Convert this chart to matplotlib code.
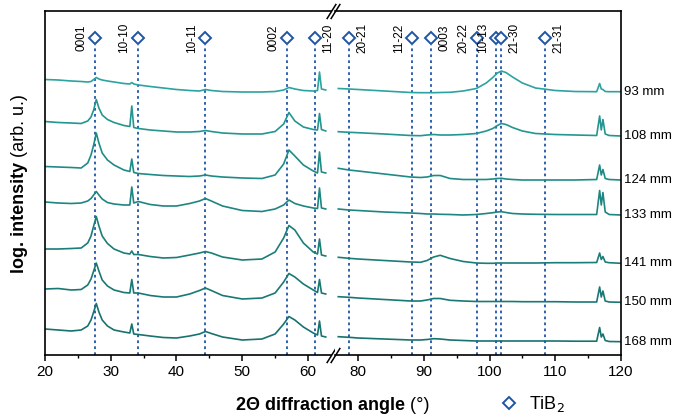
import matplotlib
matplotlib.use('Agg')
import matplotlib.pyplot as plt
from matplotlib.lines import Line2D

plt.rcParams['font.family'] = ['Liberation Sans', 'DejaVu Sans']

# ---------------- data ----------------
samples = ['93 mm', '108 mm', '124 mm', '133 mm', '141 mm', '150 mm', '168 mm']
colors = ['#2ba3a0', '#23968f', '#1f8b86', '#1e8581', '#1b7d78', '#1a7874', '#18726f']

x_low = [20, 22, 24, 25.5, 26.5, 27.0, 27.4, 27.8, 28.2, 28.7, 29.5, 30.5, 32, 32.9, 33.2,
         33.5, 34.2, 36, 38, 40, 42, 43.5, 44.4, 45.3, 47, 50, 53, 55, 56.3, 57.1, 58.0,
         59.3, 60.8, 61.45, 61.75, 62.05, 62.7]
x_high = [77, 78.6, 80, 84, 88, 89.5, 90.5, 91.5, 92.5, 94, 96, 98, 99.5, 100.5, 101.2,
          101.8, 102.5, 103.5, 105, 107, 110, 113, 116.3, 116.75, 117.0, 117.25, 117.6,
          118.2, 120]

low_93 = [275.5, 275, 274, 273.5, 273, 273.5, 275.5, 277.5, 276, 275, 274, 273, 271.5, 271,
          272.5, 271, 270, 268.5, 267, 265.5, 264.5, 264, 265.5, 264.5, 263.5, 263, 263,
          263.5, 265, 267.5, 266, 264.5, 264, 264.5, 283, 266, 265]
low_108 = [233.5, 232.5, 232, 231.5, 234, 238, 245, 255.5, 247, 240, 235.5, 232.5, 229.5,
           228.5, 249, 227.5, 226.5, 225, 224, 223, 223, 223.5, 224.5, 223.5, 222, 221, 221,
           223.5, 231, 242.5, 234, 228, 225.5, 225, 241.5, 225.5, 224]
low_124 = [188.5, 188, 187.5, 187, 192, 200, 210, 222, 212, 202, 195, 190, 185, 183.5, 196,
           182.5, 181.5, 180.5, 179.5, 179, 178.5, 179, 180, 179, 178, 177, 176.5, 180, 191,
           205, 199, 190, 184, 182, 203, 183, 182]
low_133 = [153, 152, 151.5, 152, 154, 156.5, 160, 163.5, 160, 156, 152.5, 151, 150, 150, 168,
           152, 153.5, 150.5, 149, 149, 151.5, 154, 156.5, 154, 149, 144.5, 143.5, 146, 150,
           155, 151.5, 149, 147, 146.5, 167, 147, 146]
low_141 = [106, 106, 106.5, 107, 112, 119, 129, 138.5, 129, 119, 111.5, 106, 102, 101, 104,
           100.5, 100.5, 98.5, 97, 97.5, 100, 102, 103.5, 102, 98, 95, 96, 103, 117, 129.5,
           125, 112, 103, 101, 116, 100, 99]
low_150 = [66, 66.5, 65, 65.5, 70, 76, 84, 92, 84, 75, 69, 65, 62.5, 62, 75.5, 62, 62, 59.5,
           58, 58, 61, 64.5, 67, 64.5, 59.5, 56, 57, 62, 73, 81.5, 78, 71, 65, 62.5, 75.5, 62, 61]
low_168 = [26, 25, 24, 25, 29, 35, 43, 51.5, 43, 35, 29, 25, 23, 22, 31, 21, 20.5, 19, 17.5,
           17, 19, 21, 23.5, 21.5, 18, 15, 16, 21, 31, 38.5, 35, 28, 22, 20, 34, 19, 18]

high_93 = [266.5, 266, 265.5, 264, 262.5, 262.3, 262.3, 262.3, 262.5, 262.7, 264, 266.5, 272,
           277.5, 282, 284, 282.5, 278, 272, 267, 264.5, 263.5, 263.3, 271.5, 266, 265.5,
           263.5, 263.3, 263.3]
high_108 = [223.3, 222.7, 222.3, 221, 219.5, 219.3, 220, 220.5, 220, 220, 220.5, 221.5, 224,
            226.5, 229.5, 231.5, 230.5, 227.5, 224, 221.5, 220.5, 220, 219.5, 239, 225, 235.5,
            221, 219.5, 219]
high_124 = [186.7, 185, 184, 181, 178, 177.5, 178, 179.5, 179.5, 176.5, 175.5, 175.5, 175.5,
            176, 176.5, 176.7, 176, 175.5, 175, 175, 175, 175, 175.5, 190, 180, 185.5, 176.5,
            175.5, 175]
high_133 = [146, 145, 144.5, 143, 142, 141.5, 141, 141, 140.7, 140.5, 140, 140.5, 141.5, 142.3,
            143, 143.3, 142.5, 141.5, 141, 140.7, 140.5, 140.5, 140.5, 164.5, 150, 162.5, 143,
            140.5, 140]
high_141 = [97.7, 96.7, 96, 94.5, 93, 92.7, 94.5, 98, 99.7, 96.5, 93.5, 92, 91.7, 91.7, 92, 92,
            92, 92, 92, 92, 92.3, 92.3, 92.5, 102, 95.5, 98.5, 93, 92.3, 91.7]
high_150 = [58.3, 57.7, 57, 55.5, 54, 54, 55, 56.5, 56.5, 54.7, 54, 53.5, 53.5, 53.5, 53.5,
            53.5, 53.5, 53.5, 53.3, 53.3, 53.3, 53, 53, 68, 58, 64, 54, 53, 52.7]
high_168 = [18.3, 17.7, 17, 16, 15, 15, 15.5, 16.3, 16, 15, 14.5, 14, 14, 14, 14, 14, 14, 14,
            14, 14, 14, 13.8, 13.8, 27.5, 18, 21, 14.5, 13.5, 13.3]

low_sets = [low_93, low_108, low_124, low_133, low_141, low_150, low_168]
high_sets = [high_93, high_108, high_124, high_133, high_141, high_150, high_168]

# TiB2 reference reflections
ref_pos = [27.6, 34.1, 44.4, 56.8, 61.1, 78.6, 88.2, 91.1, 98.1, 101.0, 101.8, 108.5]
ref_hkl = ['0001', '10-10', '10-11', '0002', '11-20', '20-21', '11-22', '0003', '20-22',
           '10-13', '21-30', '21-31']
ref_side = [-1, -1, -1, -1, 1, 1, -1, 1, -1, -1, 1, 1]

low_lim = (20, 63.5)
high_lim = (76.5, 120)
low_ticks = [20, 30, 40, 50, 60]
high_ticks = [80, 90, 100, 110, 120]
low_minor = [25, 35, 45, 55]
high_minor = [85, 95, 105, 115]

# ---------------- figure ----------------
W, H = 673, 418
fig = plt.figure(figsize=(W / 100, H / 100), dpi=100)
axL = fig.add_axes([45 / W, 63 / H, 286 / W, 344 / H])
axR = fig.add_axes([335 / W, 63 / H, 286 / W, 344 / H])

ref_color = '#1f55a5'
ylim = (0, 344)
line_top = 310
marker_y = 317

for ax, xl, ticks, minor in [(axL, low_lim, low_ticks, low_minor),
                             (axR, high_lim, high_ticks, high_minor)]:
    ax.set_xlim(*xl)
    ax.set_ylim(*ylim)
    ax.set_yticks([])
    ax.set_xticks(ticks)
    ax.set_xticks(minor, minor=True)
    ax.tick_params(axis='x', which='major', direction='out', length=4, width=1.1,
                   labelsize=11, pad=3)
    ax.tick_params(axis='x', which='minor', direction='out', length=2.5, width=1.0)
    for s in ax.spines.values():
        s.set_linewidth(1.2)

axL.spines['right'].set_visible(False)
axR.spines['left'].set_visible(False)

# reference lines
for pos, hkl, side in zip(ref_pos, ref_hkl, ref_side):
    ax = axL if pos < 70 else axR
    ax.vlines(pos, 0, line_top, colors=ref_color, linestyles=(0, (1.5, 1.8)), lw=1.3, zorder=1)
    ax.plot([pos], [marker_y], marker='D', ms=6.6, mfc='white', mec=ref_color, mew=1.4,
            ls='none', clip_on=False, zorder=3)
    ax.annotate(hkl, (pos, marker_y), xytext=(side * 9.5, 0), textcoords='offset points',
                rotation=90, ha='center', va='center', fontsize=8.5)

# patterns
for name, col, lo, hi in zip(samples, colors, low_sets, high_sets):
    axL.plot(x_low, lo, color=col, lw=1.2, zorder=2)
    axR.plot(x_high, hi, color=col, lw=1.2, zorder=2)
    axR.annotate(name, (x_high[-1], hi[-1]), xytext=(2, 0), textcoords='offset points',
                 ha='left', va='center', fontsize=9.5, annotation_clip=False)

# break marks
kw = dict(marker=[(-1, -1.6), (1, 1.6)], markersize=11, linestyle='none', color='k',
          mec='k', mew=1.1, clip_on=False)
axL.plot([1, 1], [0, 1], transform=axL.transAxes, **kw)
axR.plot([0, 0], [0, 1], transform=axR.transAxes, **kw)

# axis labels
tx = fig.text(236 / W, 1 - 410 / H, '2\u0398 diffraction angle', fontsize=13,
              fontweight='bold', ha='left', va='baseline')
axL.annotate(' (\u00b0)', xy=(1, 0), xycoords=tx, ha='left', va='bottom', fontsize=13)

ty = fig.text(20 / W, 1 - 273 / H, 'log. intensity', fontsize=13, fontweight='bold',
              rotation=90, ha='center', va='bottom')
axL.annotate(' (arb. u.)', xy=(0.5, 1), xycoords=ty, ha='center', va='bottom',
             rotation=90, fontsize=13)

# legend
handle = Line2D([], [], marker='D', ls='none', ms=6.6, mfc='white', mec=ref_color, mew=1.4)
fig.legend([handle], ['TiB$_2$'], loc='center left', bbox_to_anchor=(500 / W, 1 - 404 / H),
           frameon=False, fontsize=13, handlelength=1.0, handletextpad=0.6,
           borderpad=0, borderaxespad=0)

fig.savefig('out.png', dpi=100)
